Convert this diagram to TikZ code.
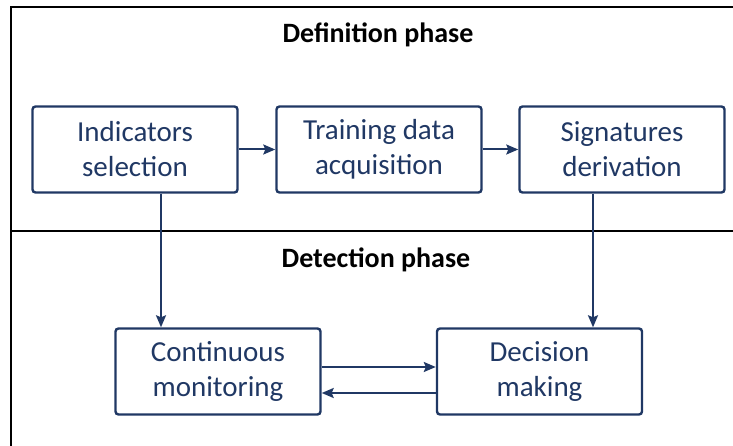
\documentclass[tikz,border=0pt]{standalone}
\usepackage{fontspec}
\setmainfont{Carlito}
\usetikzlibrary{arrows.meta}
\definecolor{navy}{HTML}{203864}
\tikzset{
  procbox/.style={draw=navy, line width=2.4pt, rounded corners=3pt, minimum width=205pt, minimum height=86pt,
    align=center, text=navy, inner sep=0pt, font=\fontsize{29}{35}\selectfont},
  phasetitle/.style={font=\fontsize{28}{30}\selectfont\bfseries, text=black, inner sep=0pt},
  flow/.style={draw=navy, line width=2pt, -{Stealth[length=12pt,width=10pt,inset=2pt]}},
  frame/.style={draw=black, line width=2.5pt}
}
\begin{document}
\begin{tikzpicture}[x=1pt,y=-1pt]
\useasboundingbox (0,0) rectangle (733,446);
% frame
\draw[frame] (734,7) -- (11,7) -- (11,447);
\draw[frame] (11,231) -- (734,231);
% titles
\node[phasetitle] (t1) at (378,35) {Definition phase};
\node[phasetitle] (t2) at (376,260) {Detection phase};
% boxes
\node[procbox] (ind) at (135,149.5) {Indicators\\selection};
\node[procbox] (tra) at (379,149.5) {Training data\\acquisition};
\node[procbox] (sig) at (622,149.5) {Signatures\\derivation};
\node[procbox] (con) at (218,371.5) {Continuous\\monitoring};
\node[procbox] (dec) at (539.5,371.5) {Decision\\making};
% connectors
\draw[flow] (ind) -- (tra);
\draw[flow] (tra) -- (sig);
\coordinate (xl) at (161,0);
\coordinate (xr) at (593,0);
\draw[flow] (ind.south -| xl) -- (con.north -| xl);
\draw[flow] (sig.south -| xr) -- (dec.north -| xr);
\coordinate (ya) at (0,367);
\coordinate (yb) at (0,393);
\draw[flow] (con.east |- ya) -- (dec.west |- ya);
\draw[flow] (dec.west |- yb) -- (con.east |- yb);
\end{tikzpicture}
\end{document}
